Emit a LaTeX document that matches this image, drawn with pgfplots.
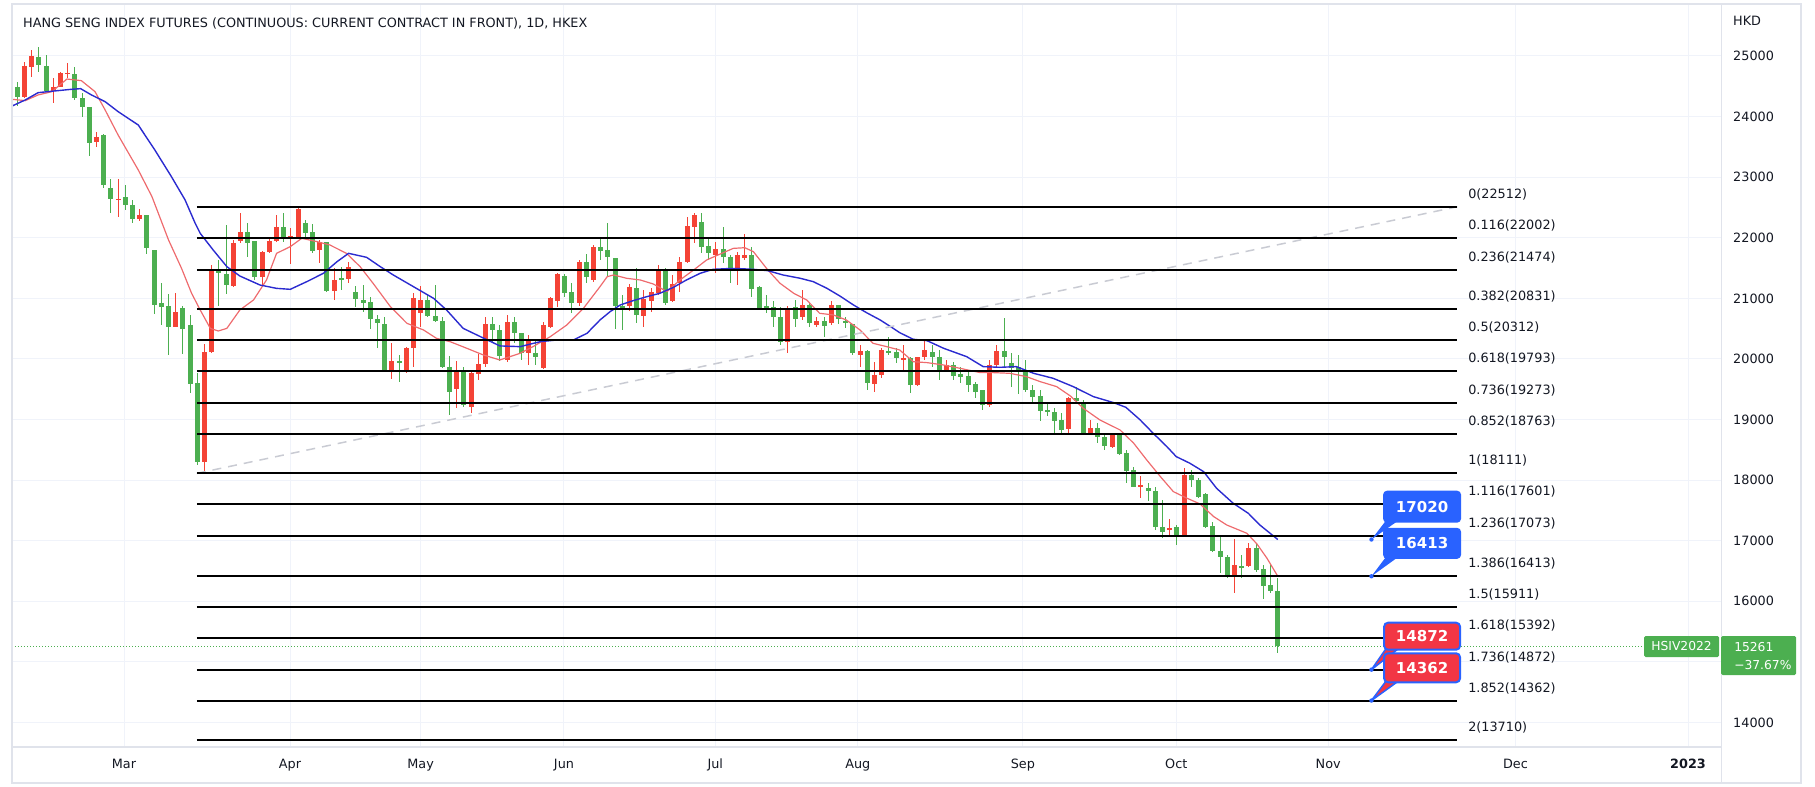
\documentclass[border=0pt]{standalone}
\usepackage{fontspec}
\setmainfont{DejaVu Sans}
\usepackage{pgfplots}
\usepackage{pgfplotstable}
\pgfplotsset{compat=1.18}
\definecolor{cgreen}{HTML}{4CAF50}
\definecolor{cred}{HTML}{F44336}
\definecolor{mared}{HTML}{EE6B6E}
\definecolor{mablue}{HTML}{2B2BD0}
\definecolor{gridc}{HTML}{F0F3FA}
\definecolor{borderc}{HTML}{E0E3EB}
\definecolor{txt}{HTML}{131722}
\definecolor{tvblue}{HTML}{2962FF}
\definecolor{tvred}{HTML}{F23645}
\definecolor{dashc}{HTML}{C9CBD3}
\newcommand{\lbl}{\fontsize{12.8}{15}\selectfont}
\newcommand{\bx}{\fontsize{15}{17}\selectfont\bfseries}
\newcommand{\tg}{\fontsize{12.3}{14}\selectfont}

% up candles (close > open): i o h l c
\pgfplotstableread{
i o h l c
-24 24329 24895 24300 24840
-23 24824 25099 24659 25000
-20 24423 24632 24230 24494
-19 24494 24742 24483 24725
-18 24705 24879 24632 24725
-14 23586 23746 23504 23669
-11 22625 22971 22349 22645
-8 22305 22470 22277 22376
-3 20534 21084 20520 20781
1 18305 20247 18111 20120
2 20120 21551 20100 21468
5 21204 21963 21193 21919
6 21946 22403 21919 22090
9 21358 21787 21193 21770
10 21770 21974 21743 21952
11 21941 22375 21930 22172
13 22007 22155 21567 22029
14 22007 22512 21991 22469
17 21798 21963 21578 21924
19 21127 21495 20973 21303
21 21320 21595 21248 21512
27 19779 20269 19664 19966
29 19790 20203 19763 20176
30 20176 21083 19873 21011
31 20764 21204 20533 20973
36 19499 19966 19185 19779
38 19202 19818 19103 19774
39 19746 20082 19653 19911
40 19911 20698 19873 20571
43 19983 20725 19956 20615
46 20093 20396 19901 20313
48 19846 20615 19829 20560
49 20533 21028 20506 21001
50 20962 21424 20863 21402
53 20929 21633 20874 21606
55 21303 21880 21276 21853
60 20874 21230 20790 21193
62 20709 21137 20533 20984
63 20950 21165 20780 21110
64 21094 21551 21055 21479
66 20962 21385 20945 21237
67 21248 21688 21110 21605
68 21606 22348 21580 22194
69 22183 22414 21908 22375
72 21716 21936 21413 21809
75 21496 21770 21220 21716
76 21666 22062 21633 21716
82 20286 20874 20093 20847
84 20687 21138 20643 20890
86 20560 20698 20522 20632
88 20588 20962 20560 20890
92 20066 20230 19873 20131
94 19587 19956 19460 19735
95 19735 20175 19680 20148
98 19985 20230 19818 20013
100 19570 20038 19560 20027
101 20038 20313 19983 20148
104 19818 19983 19790 19900
110 19240 19983 19213 19900
111 19900 20230 19873 20137
121 18839 19378 18745 19350
124 18784 18993 18745 18855
127 18553 18784 18525 18773
131 17882 18069 17700 17915
135 17178 17354 17068 17216
137 17079 18195 17068 18085
144 16397 17024 16144 16600
146 16584 16958 16573 16875
}\upc

% down candles (close < open)
\pgfplotstableread{
i o h l c
-25 24483 24565 24175 24318
-22 24978 25154 24741 24857
-21 24835 25016 24412 24428
-17 24703 24813 24274 24302
-16 24302 24384 23999 24164
-15 24153 24160 23350 23570
-13 23691 23713 22817 22872
-12 22817 22971 22404 22635
-10 22668 22871 22459 22547
-9 22547 22624 22239 22305
-7 22371 22380 21727 21826
-6 21793 21800 20737 20897
-5 20919 21249 20562 20853
-4 20875 21073 20066 20523
-2 20842 20875 20077 20490
-1 20561 20726 19434 19582
0 19609 19763 18250 18305
3 21468 21633 20874 21413
4 21402 22210 21072 21220
7 22090 22238 21688 21919
8 21946 21950 21303 21358
12 22172 22403 21936 21991
15 22238 22293 21991 22084
16 22090 22227 21743 21782
18 21924 21935 21111 21127
20 21330 21523 21138 21313
22 21105 21204 20863 20984
23 20973 21215 20780 20918
24 20946 21028 20489 20654
25 20659 20725 20175 20599
26 20577 20698 19790 19801
28 19966 20065 19625 19928
32 20973 21055 20698 20709
33 20709 21220 20616 20632
34 20632 20698 19850 19862
35 19862 20049 19076 19460
37 19779 19873 19213 19240
41 20571 20698 20285 20478
42 20470 20560 19960 20050
44 20615 20698 20258 20423
45 20423 20430 19983 20093
47 20104 20324 19901 20038
51 21369 21402 21028 21094
52 21111 21248 20753 20929
54 21606 21732 21248 21358
56 21853 22018 21633 21787
57 21798 22238 21358 21688
58 21661 21670 20489 20874
59 20880 21055 20478 20850
61 21165 21496 20588 20725
65 21479 21496 20891 20918
70 22265 22414 21743 21853
71 21864 22018 21633 21743
73 21809 22172 21578 21688
74 21688 21716 21248 21496
77 21716 21853 21017 21149
78 21193 21200 20800 20819
79 20874 21055 20753 20819
80 20863 20962 20533 20698
81 20698 20863 20231 20286
83 20863 20973 20533 20654
85 20890 20929 20533 20588
87 20632 20698 20357 20544
89 20890 20895 20577 20654
90 20632 20698 20506 20599
91 20577 20580 20066 20093
93 20131 20148 19488 19598
96 20137 20368 20066 20104
97 20120 20175 19939 20010
99 20010 20038 19433 19570
102 20120 20230 19873 20027
103 20027 20148 19653 19818
105 19900 19955 19653 19719
106 19752 19873 19598 19708
107 19719 19790 19461 19570
108 19581 19625 19350 19460
109 19488 19490 19158 19240
112 20137 20670 19845 20027
113 19928 20093 19543 19845
114 19862 20065 19422 19807
115 19818 19983 19460 19488
116 19488 19570 19257 19378
117 19389 19488 18982 19147
118 19158 19295 19059 19130
119 19130 19185 18784 18982
120 18993 19103 18784 18828
122 19350 19543 19268 19312
123 19295 19323 18773 18784
125 18855 18938 18619 18707
126 18718 18745 18498 18564
128 18757 18773 18415 18432
129 18443 18498 17948 18157
130 18168 18223 17882 17893
132 17866 17948 17662 17827
133 17827 17882 17178 17233
134 17222 17673 17040 17150
136 17222 17260 16930 17079
138 18085 18168 17893 18003
139 18003 18030 17705 17717
140 17772 17783 17205 17222
141 17244 17315 16820 16837
142 16831 17068 16463 16727
143 16738 16765 16380 16408
145 16584 16765 16380 16562
147 16875 16958 16491 16518
148 16529 16600 16034 16254
149 16270 16600 16144 16177
150 16177 16380 15154 15261
}\downc

\newcommand{\fibline}[2]{%
  \addplot[black, line width=2pt, forget plot] coordinates {(-0.08,#2) (174.93,#2)};
  \node[anchor=base west, inner sep=0pt, font=\lbl, text=txt, yshift=8.5pt] at (axis cs:176.42,#2) {#1(#2)};
}

\begin{document}
\begin{tikzpicture}
\useasboundingbox (0,0) rectangle (1815pt,787pt);
\begin{axis}[
  at={(12pt,40pt)}, anchor=south west,
  width=1709.5pt, height=743pt, scale only axis,
  xmin=-25.73, xmax=211.6, ymin=13595.5, ymax=25858.2,
  clip=false,
  axis line style={draw=borderc, line width=1.2pt},
  grid=major, major grid style={draw=gridc, line width=1pt},
  major tick length=0pt,
  scaled y ticks=false,
  ytick={14000,15000,...,25000},
  yticklabel pos=right,
  yticklabel style={anchor=west, inner sep=0pt, xshift=11.5pt, text=txt, font=\lbl},
  xtick={-10.18,12.87,31.0,50.9,71.9,91.7,114.6,135.9,157.0,183.0,206.95},
  xticklabels={Mar,Apr,May,Jun,Jul,Aug,Sep,Oct,Nov,Dec,\textbf{2023}},
  xticklabel style={anchor=base, inner sep=0pt, yshift=-21.7pt, text=txt, font=\lbl},
  /pgf/number format/.cd, 1000 sep={}, fixed, precision=0, assume math mode=true,
]
% wicks
\addplot[draw=none, mark=none, forget plot,
  error bars/.cd, y dir=both, y explicit, error mark=none,
  error bar style={draw=cred, line width=1pt}]
  table[x=i, y expr={(\thisrow{h}+\thisrow{l})/2}, y error expr={(\thisrow{h}-\thisrow{l})/2}] {\upc};
\addplot[draw=none, mark=none, forget plot,
  error bars/.cd, y dir=both, y explicit, error mark=none,
  error bar style={draw=cgreen, line width=1pt}]
  table[x=i, y expr={(\thisrow{h}+\thisrow{l})/2}, y error expr={(\thisrow{h}-\thisrow{l})/2}] {\downc};
% bodies
\addplot[draw=none, mark=none, forget plot,
  error bars/.cd, y dir=both, y explicit, error mark=none,
  error bar style={draw=cred, line width=5pt}]
  table[x=i, y expr={(\thisrow{o}+\thisrow{c})/2}, y error expr={max(abs(\thisrow{o}-\thisrow{c})/2,9)}] {\upc};
\addplot[draw=none, mark=none, forget plot,
  error bars/.cd, y dir=both, y explicit, error mark=none,
  error bar style={draw=cgreen, line width=5pt}]
  table[x=i, y expr={(\thisrow{o}+\thisrow{c})/2}, y error expr={max(abs(\thisrow{o}-\thisrow{c})/2,9)}] {\downc};
% moving averages
\addplot[mared, line width=1.2pt] coordinates {
(-25.7,24285) (-23.9,24263) (-22.1,24357) (-20.2,24411) (-18.1,24620) (-16.1,24593) (-14.2,24411) (-12.8,24109) (-11.0,23696) (-8.2,23119) (-6.3,22679) (-4.0,21964) (-2.2,21497) (-0.8,21084) (0.4,20808) (1.8,20505) (2.9,20461) (4.1,20505) (5.9,20808) (7.8,20973) (9.6,21303) (11,21743) (12.9,21853) (14.5,21991) (16.6,21936) (18.4,21881) (20.7,21743) (22.6,21523) (24.4,21248) (26.8,20863) (29.1,20588) (31.4,20478) (33.2,20340) (35.1,20285) (37.4,20176) (39.7,20066) (42,19983) (44.8,20093) (46.6,20203) (49,20368) (51.3,20561) (53.6,20835) (55.9,21193) (56.9,21358) (57.8,21386) (59.6,21331) (61.5,21303) (63.3,21237) (65.2,21111) (67,21303) (68.9,21468) (70.7,21633) (72.6,21732) (74.4,21825) (76,21836) (77.2,21770) (79.2,21468) (80.9,21248) (82.8,21083) (84.6,20973) (86.4,20753) (88.3,20726) (90.1,20643) (92,20478) (93.8,20258) (95.7,20203) (97.5,20148) (99.4,19955) (101.3,19939) (103.6,19900) (105.9,19845) (108.7,19774) (110.5,19774) (112.8,19763) (115.1,19708) (117,19626) (119.3,19543) (121.2,19389) (123,19185) (125.3,18993) (128.1,18828) (130,18608) (131.8,18333) (133.7,18058) (135.5,17810) (137.4,17701) (139.2,17607) (141.1,17398) (142.9,17260) (145.7,17123) (147.1,16947) (148.5,16710) (150,16413)
};
\addplot[mablue, line width=1.4pt] coordinates {
(-25.7,24175) (-23.9,24274) (-22.1,24395) (-19.8,24423) (-17.5,24450) (-16.2,24461) (-14.7,24357) (-12.8,24246) (-11.0,24082) (-8.2,23861) (-5.9,23449) (-3.6,23009) (-1.7,22624) (-0.3,22239) (0.4,22073) (2.2,21798) (4.1,21523) (5.9,21369) (8.7,21220) (11,21165) (12.9,21149) (15.2,21276) (17.5,21413) (19.4,21606) (21,21743) (23.5,21677) (25.4,21523) (27.2,21386) (30,21193) (32.8,21000) (34.6,20808) (36.9,20505) (39.3,20368) (42,20215) (44.8,20203) (47.6,20285) (49.9,20313) (52.2,20313) (54.1,20423) (55.9,20643) (57.3,20780) (58.7,20890) (60.5,20962) (62.4,21028) (64.2,21083) (66.1,21182) (67.9,21303) (69.8,21413) (71.6,21479) (73.5,21490) (75.3,21490) (77.2,21479) (79.2,21457) (81.3,21386) (83.7,21331) (85.5,21276) (87.4,21166) (89.2,21039) (91.1,20890) (92.9,20764) (94.8,20643) (96.6,20506) (97.5,20434) (99.4,20324) (101.3,20302) (103.6,20176) (106.8,20038) (109.1,19873) (111.4,19862) (113.7,19873) (116.1,19763) (118.8,19681) (121.6,19543) (124.4,19378) (127.2,19279) (128.9,19202) (130.9,18993) (132.7,18773) (134.6,18553) (135.9,18388) (137.8,18278) (139.7,18140) (141.5,17865) (143.8,17618) (145.9,17453) (147.5,17260) (150,17020)
};
% last price dotted line
\addplot[cgreen, line width=1pt, dash pattern=on 1pt off 2pt] coordinates {(-25.73,15261) (200.9,15261)};
% trend line
\addplot[dashc, line width=1.5pt, dash pattern=on 9pt off 7pt] coordinates {(-0.08,18111) (174.93,22512)};
% fibonacci levels
\fibline{0}{22512}
\fibline{0.116}{22002}
\fibline{0.236}{21474}
\fibline{0.382}{20831}
\fibline{0.5}{20312}
\fibline{0.618}{19793}
\fibline{0.736}{19273}
\fibline{0.852}{18763}
\fibline{1}{18111}
\fibline{1.116}{17601}
\fibline{1.236}{17073}
\fibline{1.386}{16413}
\fibline{1.5}{15911}
\fibline{1.618}{15392}
\fibline{1.736}{14872}
\fibline{1.852}{14362}
\fibline{2}{13710}
% frame extras
\draw[borderc, line width=1.5pt] (axis description cs:0,-0.04845) rectangle (axis description cs:1.04651,1);
\draw[borderc, line width=1.2pt] (axis description cs:1,0) -- (axis description cs:1,-0.04845);
% title and currency
\node[anchor=west, inner sep=0pt, font=\lbl, text=txt] at (axis description cs:0.00643,0.9744) {HANG SENG INDEX FUTURES (CONTINUOUS: CURRENT CONTRACT IN FRONT), 1D, HKEX};
\node[anchor=west, inner sep=0pt, font=\lbl, text=txt] at (axis description cs:1.00673,0.97712) {HKD};
% callouts (blue)
\fill[tvblue] (axis cs:163,17020) -- (axis cs:165.0,17330) -- (axis cs:166.7,17330) -- cycle;
\fill[tvblue] (axis cs:163,17020) circle[radius=2.2pt];
\node[fill=tvblue, text=white, font=\bx, rounded corners=4pt, minimum width=78pt, minimum height=32pt, inner sep=0pt] at (axis cs:170.03,17561.5) {17020};
\fill[tvblue] (axis cs:163,16413) -- (axis cs:165.0,16730) -- (axis cs:166.7,16730) -- cycle;
\fill[tvblue] (axis cs:163,16413) circle[radius=2.2pt];
\node[fill=tvblue, text=white, font=\bx, rounded corners=4pt, minimum width=78pt, minimum height=31pt, inner sep=0pt] at (axis cs:170.03,16956.6) {16413};
% callouts (red)
\filldraw[fill=tvred, draw=tvblue, line width=1.5pt, line join=round] (axis cs:163,14872) -- (axis cs:165.0,15215) -- (axis cs:166.7,15215) -- cycle;
\fill[tvblue] (axis cs:163,14872) circle[radius=2.2pt];
\node[fill=tvred, draw=tvblue, line width=2pt, text=white, font=\bx, rounded corners=4pt, minimum width=76pt, minimum height=27pt, inner sep=0pt] at (axis cs:170.03,15424.2) {14872};
\filldraw[fill=tvred, draw=tvblue, line width=1.5pt, line join=round] (axis cs:163,14362) -- (axis cs:165.0,14680) -- (axis cs:166.7,14680) -- cycle;
\fill[tvblue] (axis cs:163,14362) circle[radius=2.2pt];
\node[fill=tvred, draw=tvblue, line width=2pt, text=white, font=\bx, rounded corners=4pt, minimum width=76pt, minimum height=29pt, inner sep=0pt] at (axis cs:170.03,14902.6) {14362};
% price tags
\node[fill=cgreen, text=white, font=\tg, minimum width=75pt, minimum height=21pt, inner sep=0pt, rounded corners=1.5pt] at (axis cs:206.05,15254) {HSIV2022};
\node[fill=cgreen, minimum width=75pt, minimum height=39pt, inner sep=0pt, rounded corners=1.5pt] at (axis cs:216.75,15105.6) {};
\node[anchor=west, inner sep=0pt, text=white, font=\tg] at (axis cs:213.34,15251) {15261};
\node[anchor=west, inner sep=0pt, text=white, font=\tg] at (axis cs:213.34,14949) {−37.67\%};
\end{axis}
\end{tikzpicture}
\end{document}
